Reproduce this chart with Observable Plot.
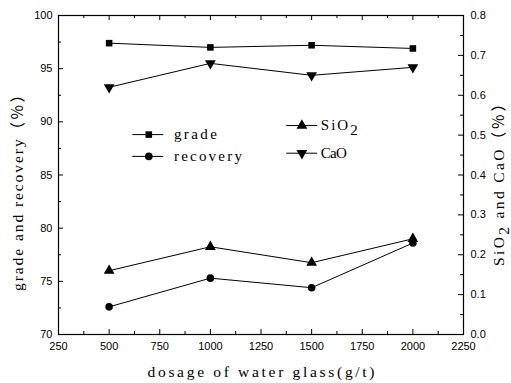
<!DOCTYPE html>
<html><head><meta charset="utf-8">
<script src="https://cdn.jsdelivr.net/npm/d3@7"></script>
<script src="https://cdn.jsdelivr.net/npm/@observablehq/plot@0.6"></script>
<style>body{margin:0;background:#fff} svg{display:block}</style>
</head><body><div id="chart"></div>
<script>
// ---- data ----
const dosage   = [500, 1000, 1500, 2000];
const grade    = [97.4, 97.0, 97.2, 96.9];
const recovery = [72.6, 75.3, 74.4, 78.6];
const sio2     = [0.16, 0.22, 0.18, 0.24];
const cao      = [0.62, 0.68, 0.65, 0.67];

const xMajor = [250, 500, 750, 1000, 1250, 1500, 1750, 2000, 2250];
const xMinor = [375, 625, 875, 1125, 1375, 1625, 1875, 2125];
const leftMajor = [70, 75, 80, 85, 90, 95, 100];
const leftMinor = [72.5, 77.5, 82.5, 87.5, 92.5, 97.5];
const rightMajor = [0.0, 0.1, 0.2, 0.3, 0.4, 0.5, 0.6, 0.7, 0.8];
const rightMinor = [0.05, 0.15, 0.25, 0.35, 0.45, 0.55, 0.65, 0.75];

const xTitle = "dosage of water glass(g/t)";
const yTitle = "grade and recovery（％）";
const y2Title = "SiO2 and CaO（％）";
const seriesNames = ["grade", "recovery", "SiO2", "CaO"];

// ---- layout ----
const W = 511, H = 383;
const M = {top: 15, right: 48, bottom: 49, left: 58};
const xDomain = [250, 2250], yDomain = [70, 100], y2Domain = [0, 0.8];
const toLeft = v => yDomain[0] + (v - y2Domain[0]) * (yDomain[1] - yDomain[0]) / (y2Domain[1] - y2Domain[0]);
const fromLeft = v => y2Domain[0] + (v - yDomain[0]) * (y2Domain[1] - y2Domain[0]) / (yDomain[1] - yDomain[0]);
const pxX = (W - M.left - M.right) / (xDomain[1] - xDomain[0]);
const pxY = (H - M.top - M.bottom) / (yDomain[1] - yDomain[0]);
const tx = l => l / pxX, ty = l => l / pxY;
const MAJ = 5, MIN = 3;

const rows = dosage.map((d, i) => ({dosage: d, grade: grade[i], recovery: recovery[i], sio2: sio2[i], cao: cao[i]}));

// legend layout (data coordinates of the plot area)
const legend = [
  {name: seriesNames[0], x1: 617, x2: 770, xm: 696, xt: 820, y: 88.8, symbol: "square", rotate: 0, r: 3.7},
  {name: seriesNames[1], x1: 617, x2: 770, xm: 696, xt: 820, y: 86.75, symbol: "circle", rotate: 0, r: 3.8},
  {name: seriesNames[2], x1: 1377, x2: 1530, xm: 1452, xt: 1545, y: 89.65, symbol: "triangle", rotate: 0, r: 4},
  {name: seriesNames[3], x1: 1377, x2: 1530, xm: 1452, xt: 1545, y: 87.05, symbol: "triangle", rotate: 180, r: 4}
];

const serif = "'Liberation Serif', 'Noto Sans CJK SC', serif";
const lineOpts = {stroke: "black", strokeWidth: 1};

const chart = Plot.plot({
  width: W, height: H,
  marginTop: M.top, marginRight: M.right, marginBottom: M.bottom, marginLeft: M.left,
  style: {fontFamily: "'Liberation Sans', Arial, sans-serif", fontSize: "11px", background: "white", color: "black"},
  x: {domain: xDomain},
  y: {domain: yDomain},
  marks: [
    // ticks (inward)
    Plot.ruleX(xMajor, {x: d => d, y1: yDomain[0], y2: yDomain[0] + ty(MAJ), ...lineOpts}),
    Plot.ruleX(xMinor, {x: d => d, y1: yDomain[0], y2: yDomain[0] + ty(MIN), ...lineOpts}),
    Plot.ruleX(xMajor, {x: d => d, y1: yDomain[1], y2: yDomain[1] - ty(MAJ), ...lineOpts}),
    Plot.ruleX(xMinor, {x: d => d, y1: yDomain[1], y2: yDomain[1] - ty(MIN), ...lineOpts}),
    Plot.ruleY(leftMajor, {y: d => d, x1: xDomain[0], x2: xDomain[0] + tx(MAJ), ...lineOpts}),
    Plot.ruleY(leftMinor, {y: d => d, x1: xDomain[0], x2: xDomain[0] + tx(MIN), ...lineOpts}),
    Plot.ruleY(rightMajor, {y: d => toLeft(d), x1: xDomain[1] - tx(MAJ), x2: xDomain[1], ...lineOpts}),
    Plot.ruleY(rightMinor, {y: d => toLeft(d), x1: xDomain[1] - tx(MIN), x2: xDomain[1], ...lineOpts}),
    Plot.frame({stroke: "black", strokeWidth: 1.2}),
    // tick labels
    Plot.axisX(xMajor, {tickSize: 0, tickPadding: 8, label: null, fontSize: 11, tickFormat: d => String(d)}),
    Plot.axisY(leftMajor, {anchor: "left", tickSize: 0, tickPadding: 6, label: null, fontSize: 11, tickFormat: d => String(d)}),
    Plot.axisY(rightMajor.map(toLeft), {anchor: "right", tickSize: 0, tickPadding: 7, label: null, fontSize: 11,
      tickFormat: d => fromLeft(d).toFixed(1)}),
    // series
    Plot.line(rows, {x: "dosage", y: "grade", ...lineOpts}),
    Plot.dot(rows, {x: "dosage", y: "grade", symbol: "square", r: 3.7, fill: "black"}),
    Plot.line(rows, {x: "dosage", y: "recovery", ...lineOpts}),
    Plot.dot(rows, {x: "dosage", y: "recovery", symbol: "circle", r: 3.8, fill: "black"}),
    Plot.line(rows, {x: "dosage", y: d => toLeft(d.sio2), ...lineOpts}),
    Plot.dot(rows, {x: "dosage", y: d => toLeft(d.sio2), symbol: "triangle", r: 4, fill: "black"}),
    Plot.line(rows, {x: "dosage", y: d => toLeft(d.cao), ...lineOpts}),
    Plot.dot(rows, {x: "dosage", y: d => toLeft(d.cao), symbol: "triangle", rotate: 180, r: 4, fill: "black"}),
    // legend
    Plot.ruleY(legend, {y: "y", x1: "x1", x2: "x2", ...lineOpts}),
    ...legend.map(L => Plot.dot([L], {x: "xm", y: "y", symbol: L.symbol, rotate: L.rotate, r: L.r, fill: "black"})),
    Plot.text(legend, {x: "xt", y: "y", text: "name", textAnchor: "start", fontFamily: serif, fontSize: 15, fill: "black"}),
    // axis titles
    Plot.text([xTitle], {frameAnchor: "bottom", dy: 38, textAnchor: "middle", lineAnchor: "middle", fontFamily: serif, fontSize: 15.5, fill: "black"}),
    Plot.text([yTitle], {frameAnchor: "left", dx: -40, dy: 14, rotate: -90, textAnchor: "middle", lineAnchor: "middle", fontFamily: serif, fontSize: 15.5, fill: "black"}),
    Plot.text([y2Title], {frameAnchor: "right", dx: 36, dy: 6, rotate: -90, textAnchor: "middle", lineAnchor: "middle", fontFamily: serif, fontSize: 15.5, fill: "black"})
  ]
});

// fit text spans to the monospaced look of the original
const fit = {[xTitle]: 227, [yTitle]: 204, [y2Title]: 170, grade: 43, recovery: 68, SiO2: 37, CaO: 26};
d3.select(chart).selectAll("text").each(function() {
  const t = this.textContent;
  if (this.childElementCount === 0 && fit[t] !== undefined) {
    d3.select(this).attr("textLength", fit[t]).attr("lengthAdjust", "spacing");
  }
  // subscript "2" in SiO2
  if (t.startsWith("SiO2") && this.childElementCount === 0) {
    const rest = t.slice(4);
    const sel = d3.select(this);
    sel.text(null);
    sel.append("tspan").text("SiO");
    sel.append("tspan").attr("dy", "0.3em").text("2");
    if (rest) sel.append("tspan").attr("dy", "-0.3em").text(rest);
  }
});

document.getElementById("chart").append(chart);
</script>
</body></html>
